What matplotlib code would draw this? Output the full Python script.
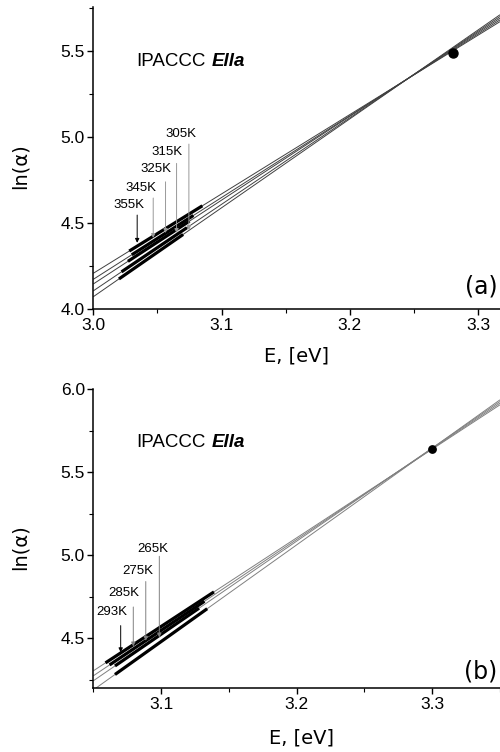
import numpy as np
import matplotlib
matplotlib.use("Agg")
import matplotlib.pyplot as plt
from matplotlib.ticker import MultipleLocator, FormatStrFormatter

## Two panels of ln(alpha) vs photon energy, Urbach-type fan of lines
## converging at a common focus point.

# ---- panel (a) data ----
a_Eleft, a_Eright = 3.0, 3.317
a_yleft = [4.209, 4.174, 4.147, 4.107, 4.073]     # ln(alpha) at left edge
a_yright = [5.670, 5.680, 5.690, 5.700, 5.710]    # ln(alpha) at right edge
a_seg_start = [3.028, 3.030, 3.027, 3.022, 3.020]  # measured range (thick)
a_seg_end = [3.085, 3.078, 3.075, 3.073, 3.070]
a_focus = (3.28, 5.49)
a_temps = ["355K", "345K", "325K", "315K", "305K"]
a_arrow_x = [3.0342, 3.0467, 3.0563, 3.0649, 3.0745]
a_arrow_top = [4.547, 4.646, 4.740, 4.847, 4.959]
a_arrow_tip = [4.386, 4.414, 4.443, 4.443, 4.460]
a_label_x = [3.0275, 3.0370, 3.0485, 3.0571, 3.0682]
a_label_y = [4.605, 4.705, 4.812, 4.913, 5.015]

# ---- panel (b) data ----
b_Eleft, b_Eright = 3.05, 3.35
b_yleft = [4.305, 4.275, 4.245, 4.190]
b_yright = [5.905, 5.915, 5.925, 5.935]
b_seg_start = [3.059, 3.062, 3.066, 3.066]
b_seg_end = [3.139, 3.132, 3.128, 3.134]
b_focus = (3.30, 5.641)
b_temps = ["293K", "285K", "275K", "265K"]
b_arrow_x = [3.0702, 3.0795, 3.0887, 3.0987]
b_arrow_top = [4.577, 4.689, 4.842, 4.994]
b_arrow_tip = [4.417, 4.452, 4.486, 4.506]
b_label_x = [3.0640, 3.0727, 3.0832, 3.0938]
b_label_y = [4.657, 4.771, 4.908, 5.035]

ARIAL = "Liberation Sans"
DEJAVU = "DejaVu Sans"
plt.rcParams["font.family"] = [ARIAL, DEJAVU]

fig = plt.figure(figsize=(5, 7.52), dpi=100)
ax1 = fig.add_axes([0.1866, 0.5887, 0.8134, 0.402])
ax2 = fig.add_axes([0.1866, 0.0847, 0.8134, 0.398])


def draw_panel(ax, Eleft, Eright, yleft, yright, seg_start, seg_end, focus,
               temps, arrow_x, arrow_top, arrow_tip, label_x, label_y,
               line_color, arrow_colors, ms):
    for y0, y1, s0, s1 in zip(yleft, yright, seg_start, seg_end):
        slope = (y1 - y0) / (Eright - Eleft)
        ax.plot([Eleft, Eright], [y0, y1], color=line_color, lw=0.7,
                zorder=2, solid_capstyle="butt")
        xs = np.array([s0, s1])
        ax.plot(xs, y0 + slope * (xs - Eleft), color="black", lw=2.3,
                zorder=3, solid_capstyle="butt")
    ax.plot([focus[0]], [focus[1]], "o", color="black", ms=ms, zorder=4)
    for t, xa, ya0, ya1, xl, yl, c in zip(temps, arrow_x, arrow_top,
                                         arrow_tip, label_x, label_y,
                                         arrow_colors):
        ax.annotate("", xy=(xa, ya1), xytext=(xa, ya0),
                    arrowprops=dict(arrowstyle="-|>", color=c, lw=0.7,
                                    mutation_scale=6, shrinkA=0, shrinkB=0),
                    zorder=5)
        ax.text(xl, yl, t, ha="center", va="center", fontsize=9.5,
                family=ARIAL, zorder=6)


def style_axes(ax, xlim, ylim):
    ax.set_xlim(*xlim)
    ax.set_ylim(*ylim)
    ax.spines["top"].set_visible(False)
    ax.spines["right"].set_visible(False)
    for s in ("left", "bottom"):
        ax.spines[s].set_linewidth(1.1)
    ax.xaxis.set_major_locator(MultipleLocator(0.1))
    ax.xaxis.set_minor_locator(MultipleLocator(0.05))
    ax.yaxis.set_major_locator(MultipleLocator(0.5))
    ax.yaxis.set_minor_locator(MultipleLocator(0.25))
    ax.xaxis.set_major_formatter(FormatStrFormatter("%.1f"))
    ax.yaxis.set_major_formatter(FormatStrFormatter("%.1f"))
    ax.tick_params(which="major", direction="out", length=4, width=1.0,
                   labelsize=12.5, pad=2)
    ax.tick_params(which="minor", direction="out", length=3, width=0.8)
    ax.set_xlabel("E, [eV]", fontsize=14, family=DEJAVU)
    ax.set_ylabel("ln(\u03b1)", fontsize=14, family=DEJAVU)


def title_text(ax, x, y):
    t = ax.text(x, y, "IPACCC", fontsize=13.5, family=ARIAL,
                va="baseline", ha="left")
    ax.annotate("Ella", xy=(1, 0), xycoords=t, xytext=(4, 0),
                textcoords="offset points", fontsize=13.5, family=ARIAL,
                fontweight="bold", fontstyle="italic", va="bottom",
                ha="left")


# panel (a)
draw_panel(ax1, a_Eleft, a_Eright, a_yleft, a_yright, a_seg_start, a_seg_end,
           a_focus, a_temps, a_arrow_x, a_arrow_top, a_arrow_tip, a_label_x,
           a_label_y, "0.25", ["black", "0.6", "0.6", "0.6", "0.6"], 6.5)
style_axes(ax1, (3.0, 3.317), (4.0, 5.755))
ax1.xaxis.set_label_coords(0.5, -0.124)
ax1.yaxis.set_label_coords(-0.156, 0.475)
title_text(ax1, 3.0338, 5.41)
ax1.text(0.993, 0.075, "(a)", transform=ax1.transAxes, fontsize=17,
         family=DEJAVU, ha="right", va="center")

# panel (b)
draw_panel(ax2, b_Eleft, b_Eright, b_yleft, b_yright, b_seg_start, b_seg_end,
           b_focus, b_temps, b_arrow_x, b_arrow_top, b_arrow_tip, b_label_x,
           b_label_y, "0.5", ["black", "0.5", "0.5", "0.5"], 5.3)
style_axes(ax2, (3.05, 3.35), (4.2, 6.0))
ax2.set_yticks([4.5, 5.0, 5.5, 6.0])
ax2.yaxis.set_minor_locator(MultipleLocator(0.25))
ax2.xaxis.set_label_coords(0.512, -0.133)
ax2.yaxis.set_label_coords(-0.156, 0.473)
title_text(ax2, 3.082, 5.65)
ax2.text(0.993, 0.055, "(b)", transform=ax2.transAxes, fontsize=17,
         family=DEJAVU, ha="right", va="center")

fig.savefig("out.png", dpi=100)
